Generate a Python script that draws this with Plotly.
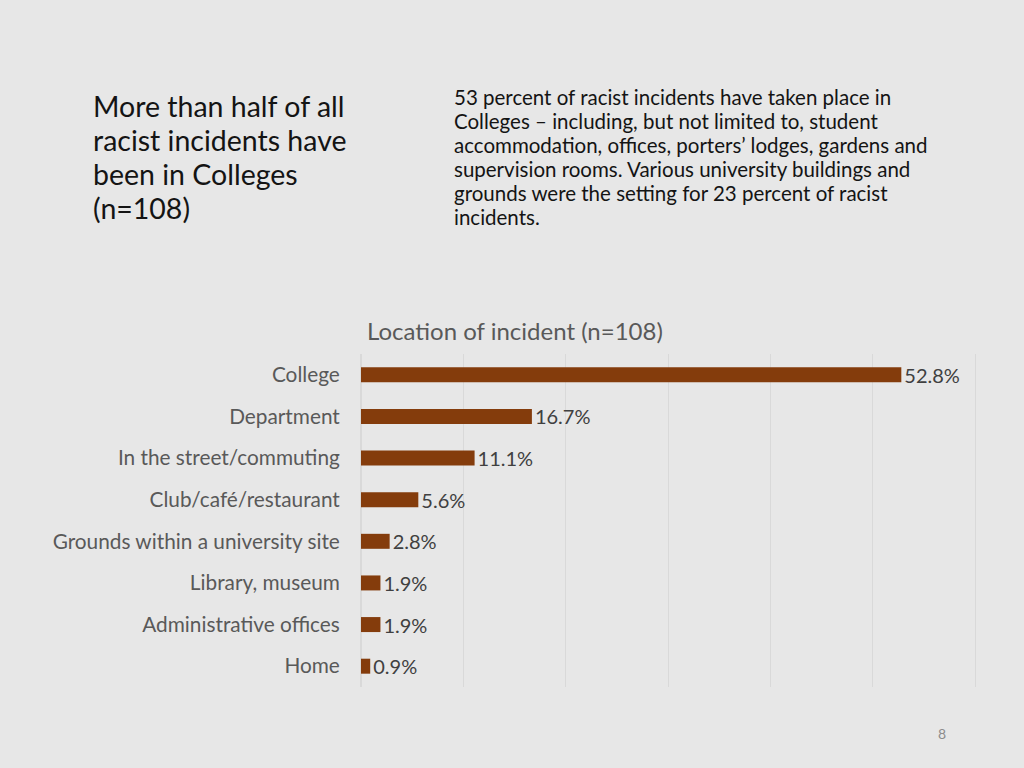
import plotly.graph_objects as go

locations = [
    "College",
    "Department",
    "In the street/commuting",
    "Club/café/restaurant",
    "Grounds within a university site",
    "Library, museum",
    "Administrative offices",
    "Home",
]
shares = [52.8, 16.7, 11.1, 5.6, 2.8, 1.9, 1.9, 0.9]
share_labels = [f"{v:.1f}%" for v in shares]

headline_lines = [
    "More than half of all",
    "racist incidents have",
    "been in Colleges",
    "(n=108)",
]
body_lines = [
    "53 percent of racist incidents have taken place in",
    "Colleges \u2013 including, but not limited to, student",
    "accommodation, offices, porters\u2019 lodges, gardens and",
    "supervision rooms. Various university buildings and",
    "grounds were the setting for 23 percent of racist",
    "incidents.",
]

W, H = 1024, 768
FONT = "Lato"
BG = "#E7E7E7"
GRID = "#D9D9D9"

fig = go.Figure(
    go.Bar(
        x=shares,
        y=locations,
        orientation="h",
        marker=dict(color="#843C0C", line=dict(width=0)),
        width=0.36,
        text=share_labels,
        textposition="outside",
        constraintext="none",
        textfont=dict(family=FONT, size=20, color="#404040"),
        cliponaxis=False,
        hoverinfo="skip",
    )
)

annotations = []
for i, line in enumerate(headline_lines):
    annotations.append(dict(
        text=line, x=91 / W, y=1 - (106 + 34 * i) / H,
        xref="paper", yref="paper", xanchor="left", yanchor="middle",
        showarrow=False, font=dict(family=FONT, size=28.5, color="#141414"),
    ))
for i, line in enumerate(body_lines):
    annotations.append(dict(
        text=line, x=452 / W, y=1 - (97 + 24 * i) / H,
        xref="paper", yref="paper", xanchor="left", yanchor="middle",
        showarrow=False, font=dict(family=FONT, size=20.5, color="#141414"),
    ))
annotations.append(dict(
    text="Location of incident (n=108)", x=515 / W, y=1 - 330 / H,
    xref="paper", yref="paper", xanchor="center", yanchor="middle",
    showarrow=False, font=dict(family=FONT, size=24, color="#595959"),
))
annotations.append(dict(
    text="8", x=942 / W, y=1 - 733 / H,
    xref="paper", yref="paper", xanchor="center", yanchor="middle",
    showarrow=False, font=dict(family=FONT, size=14, color="#8C8C8C"),
))

fig.update_layout(
    width=W,
    height=H,
    paper_bgcolor=BG,
    plot_bgcolor=BG,
    margin=dict(l=0, r=0, t=0, b=0),
    showlegend=False,
    annotations=annotations,
    xaxis=dict(
        domain=[361 / W, 975 / W],
        range=[0, 60],
        dtick=10,
        showticklabels=False,
        showgrid=True,
        gridcolor=GRID,
        gridwidth=1,
        zeroline=True,
        zerolinecolor=GRID,
        fixedrange=True,
    ),
    yaxis=dict(
        domain=[(H - 687) / H, (H - 354) / H],
        autorange="reversed",
        showgrid=False,
        # left/right frame lines stand in for the gridlines at 0 and 60
        showline=True,
        mirror=True,
        linecolor=GRID,
        linewidth=1,
        ticks="",
        ticklabelstandoff=16,
        tickfont=dict(family=FONT, size=20.8, color="#595959"),
        automargin=False,
        fixedrange=True,
    ),
)

# drop the default page margin so the figure sits at the window's corner
fig.write_html(
    "out.html",
    config={"displayModeBar": False},
    post_script="document.body.style.margin='0';",
)
